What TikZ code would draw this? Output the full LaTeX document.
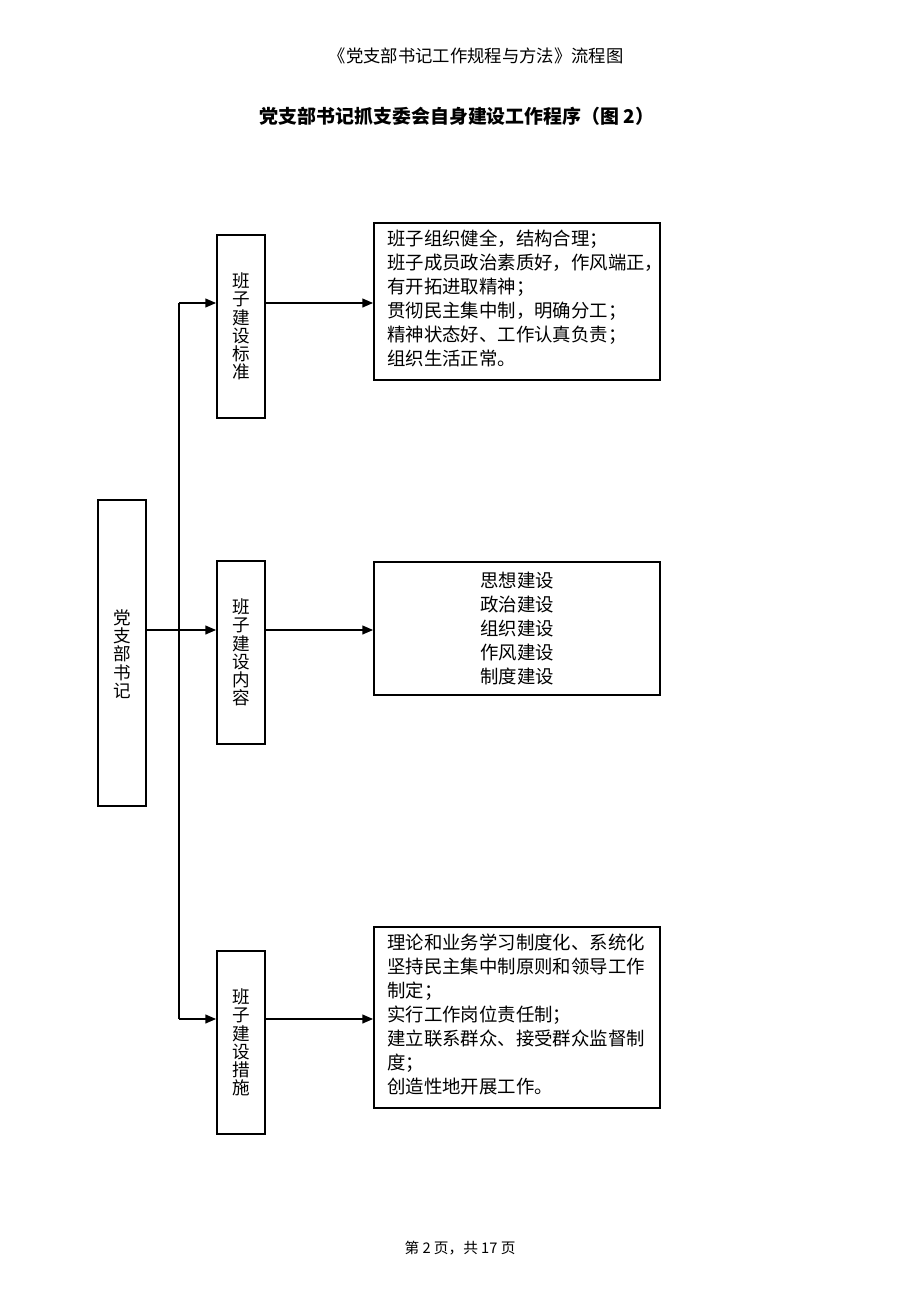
\documentclass[tikz,border=0pt]{standalone}
\usepackage{fontspec}
\setmainfont{Noto Sans CJK SC}
\usetikzlibrary{arrows.meta}
\begin{document}
\begin{tikzpicture}[x=0.75pt,y=-0.75pt,
  box/.style={draw=black,line width=1.3pt,inner sep=0pt,fill=white},
  vbox/.style={box,minimum width=36pt,minimum height=137.25pt},
  vtext/.style={align=center,font=\fontsize{13.2}{13.7}\selectfont,inner sep=0pt},
  btext/.style={align=left,font=\fontsize{13.8}{17.9}\selectfont,inner sep=0pt},
  ctext/.style={align=center,font=\fontsize{13.8}{17.9}\selectfont,inner sep=0pt},
  conn/.style={line width=1.3pt},
  arr/.style={conn,-{Triangle[length=8pt,width=6.5pt]}}]
\useasboundingbox (0,0) rectangle (920,1302);
\fill[white] (0,0) rectangle (920,1302);
% header and title
\node[font=\fontsize{13}{16}\selectfont] (hdr) at (476,56) {《党支部书记工作规程与方法》流程图};
\node[font=\fontsize{14.2}{16}\selectfont\bfseries] (ttl) at (457,116) {党支部书记抓支委会自身建设工作程序（图 2）};
% boxes
\node[box,minimum width=36pt,minimum height=229.5pt] (L) at (122,653) {};
\node[vtext] (Lt) at (122,654) {党\\支\\部\\书\\记};
\node[vbox] (B1) at (241,326.5) {};
\node[vtext] (B1t) at (241,326.5) {班\\子\\建\\设\\标\\准};
\node[vbox] (B2) at (241,652.5) {};
\node[vtext] (B2t) at (241,652.5) {班\\子\\建\\设\\内\\容};
\node[vbox] (B3) at (241,1042.5) {};
\node[vtext] (B3t) at (241,1042.5) {班\\子\\建\\设\\措\\施};
\node[box,minimum width=214.5pt,minimum height=117.75pt] (R1) at (517,301.5) {};
\node[btext,anchor=north west] (R1t) at (387,230) {班子组织健全，结构合理；\\班子成员政治素质好，作风端正，\\有开拓进取精神；\\贯彻民主集中制，明确分工；\\精神状态好、工作认真负责；\\组织生活正常。};
\node[box,minimum width=214.5pt,minimum height=99.75pt] (R2) at (517,628.5) {};
\node[ctext] (R2t) at (517,628.5) {思想建设\\政治建设\\组织建设\\作风建设\\制度建设};
\node[box,minimum width=214.5pt,minimum height=135.75pt] (R3) at (517,1017.5) {};
\node[btext,anchor=north west] (R3t) at (387,934) {理论和业务学习制度化、系统化\\坚持民主集中制原则和领导工作\\制定；\\实行工作岗位责任制；\\建立联系群众、接受群众监督制\\度；\\创造性地开展工作。};
% footer
\node[font=\fontsize{11}{12}\selectfont] (ftr) at (460,1248) {第 2 页，共 17 页};
% connectors
\coordinate (j1) at (179,303);
\coordinate (j2) at (179,630);
\coordinate (j3) at (179,1019);
\draw[conn] (j1) -- (j3);
\draw[arr] (j1) -- (j1 -| B1.west);
\draw[arr] (L.east |- j2) -- (j2 -| B2.west);
\draw[arr] (j3) -- (j3 -| B3.west);
\draw[arr] (B1.east |- j1) -- (R1.west |- j1);
\draw[arr] (B2.east |- j2) -- (R2.west |- j2);
\draw[arr] (B3.east |- j3) -- (R3.west |- j3);
\end{tikzpicture}
\end{document}
